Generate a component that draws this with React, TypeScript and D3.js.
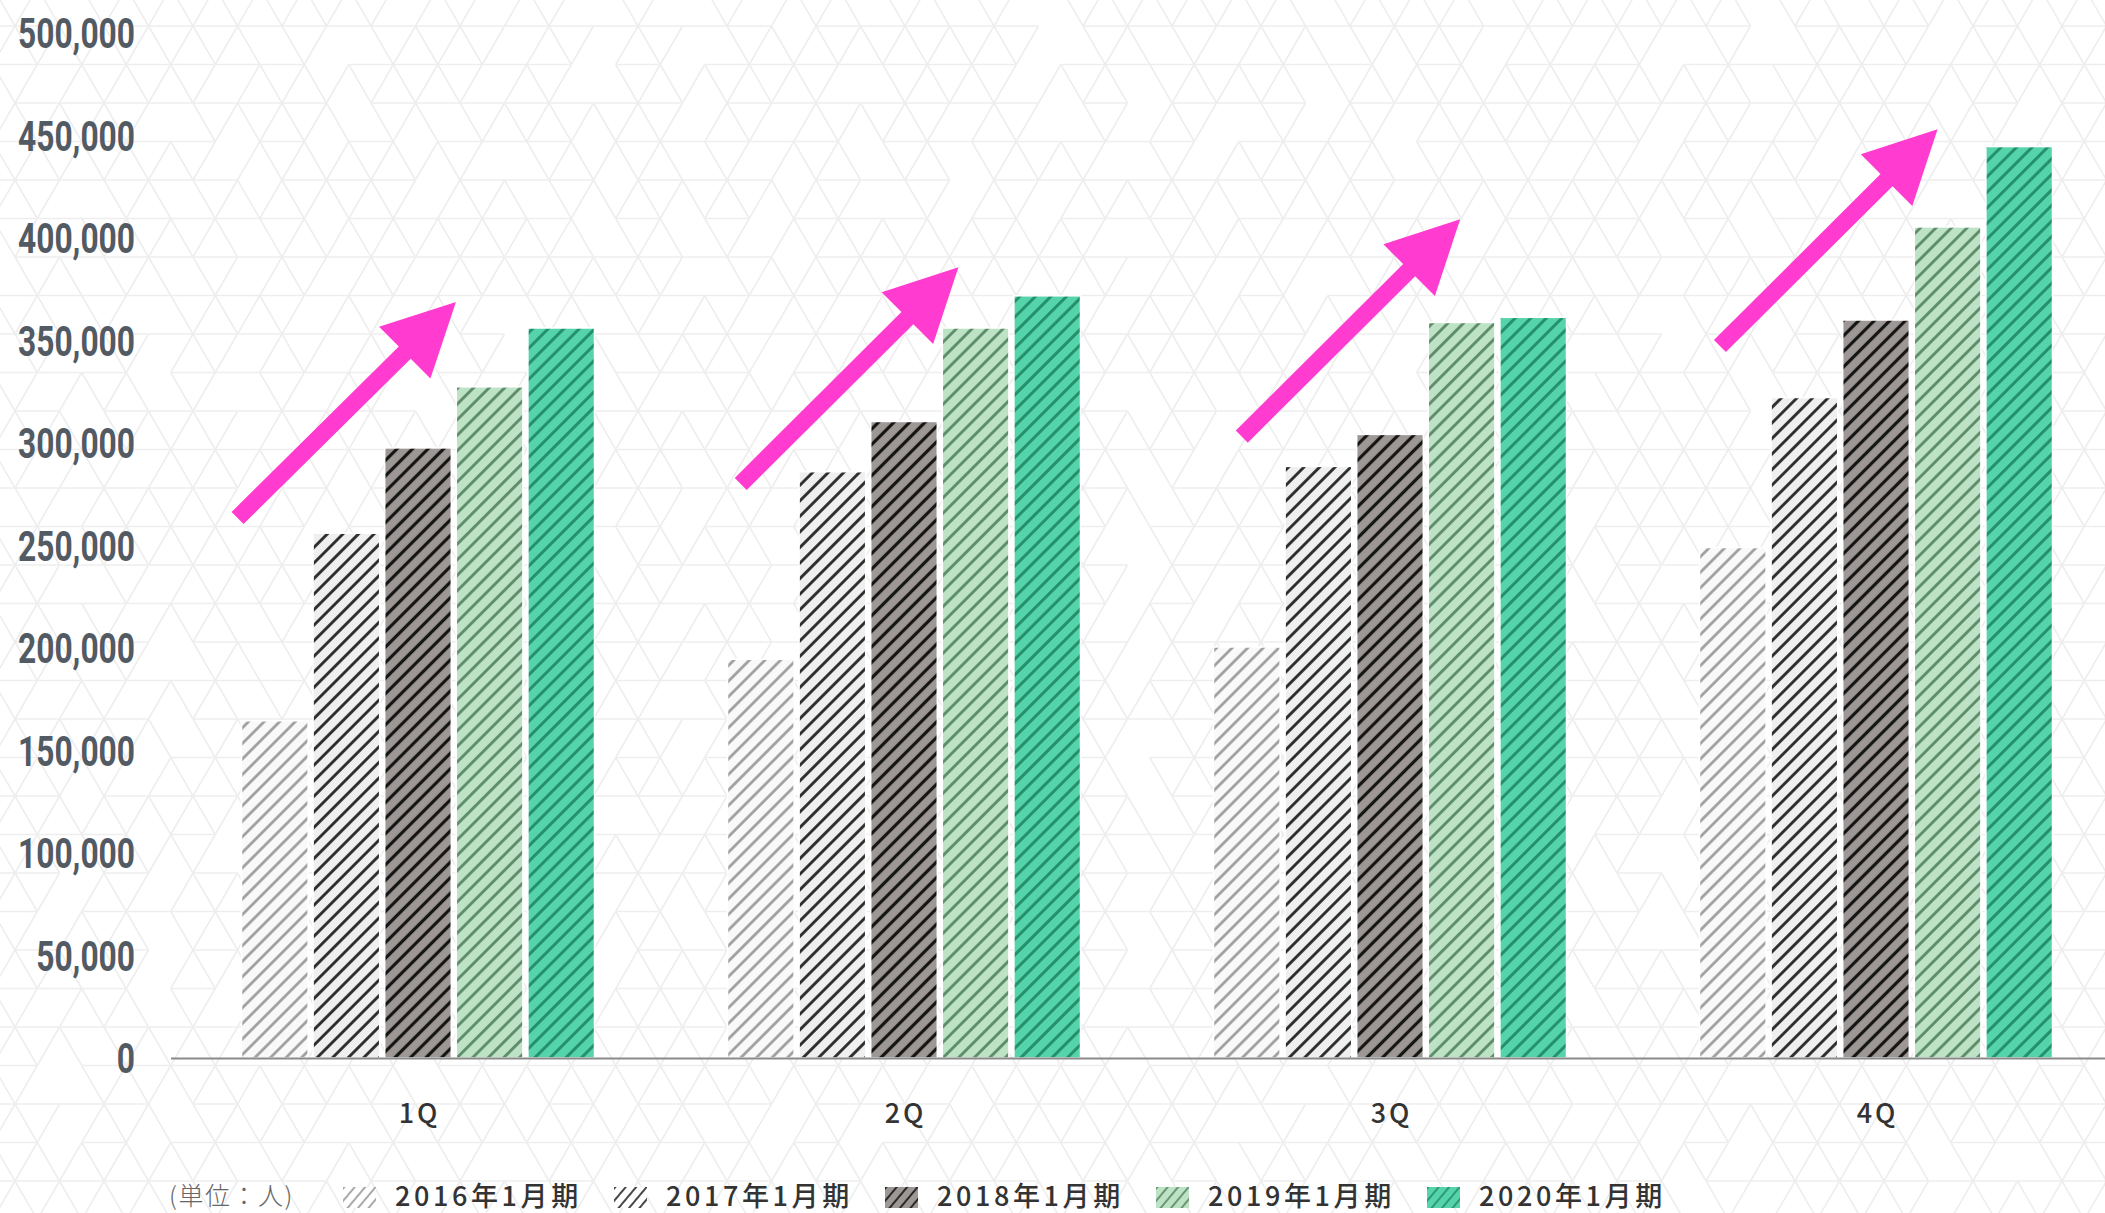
import React from 'react';
import * as d3 from 'd3';

const W = 2105;
const H = 1213;

// Quarters on the x axis and fiscal periods in the legend
const quarters = ['1Q', '2Q', '3Q', '4Q'];
const periods = ['2016年1月期', '2017年1月期', '2018年1月期', '2019年1月期', '2020年1月期'];

// Headcount per quarter (人)
const fy2016 = [164500, 194500, 200500, 249000];
const fy2017 = [256000, 286000, 288600, 322200];
const fy2018 = [297600, 310500, 304200, 360000];
const fy2019 = [327400, 356100, 358800, 405400];
const fy2020 = [356100, 371800, 361300, 444600];
const seriesValues = [fy2016, fy2017, fy2018, fy2019, fy2020];

const yTicks = d3.range(0, 500001, 50000);
const tickFormat = d3.format(',');

// Trend arrows: value at tail / tip, horizontal offsets in bar steps from the quarter centre
const arrowQuarter = ['1Q', '2Q', '3Q', '4Q'];
const arrowFrom = [263400, 280000, 303100, 347300];
const arrowTo = [368800, 385700, 409100, 453000];
const arrowFromStep = [-2.52, -2.28, -2.07, -2.18];
const arrowToStep = [0.53, 0.76, 0.98, 0.86];

// Fill / stripe styling per period
const fills = ['#f9f9f9', '#efefef', '#9d9795', '#bee2c6', '#55d3ab'];
const stripes = ['#9a9a9a', '#262626', '#151515', '#5b8a66', '#25906c'];
const stripeW = [2.6, 2.8, 3.2, 2.8, 3.0];

const y = d3.scaleLinear().domain([0, 500000]).range([1058, 33]);
const x0 = d3.scalePoint<string>().domain(quarters).range([418, 1876]);
const x1 = d3
  .scaleBand<string>()
  .domain(periods)
  .range([-179, 179])
  .paddingInner(0.07)
  .paddingOuter(0.035);

// Light triangular lattice that fills the page background
function latticeSegments() {
  const side = 44.5;
  const rowH = 38.5;
  const segs: [number, number, number, number][] = [];
  const rows = d3.range(-1, Math.ceil(H / rowH) + 2);
  const cols = d3.range(-2, Math.ceil(W / side) + 3);
  const vx = (k: number, m: number) => 15 + side * (m + (Math.abs(k) % 2 ? 0.5 : 0));
  const vy = (k: number) => 26 + rowH * k;
  const skip = (k: number, m: number, d: number) => {
    const h = (((k + 7) * 73856093) ^ ((m + 11) * 19349663) ^ ((d + 3) * 83492791)) >>> 0;
    return h % 6 === 0;
  };
  rows.forEach((k) => {
    cols.forEach((m) => {
      if (!skip(k, m, 0)) segs.push([vx(k, m), vy(k), vx(k, m + 1), vy(k)]);
      // diagonals to the row below
      const odd = Math.abs(k) % 2 === 1;
      const left = odd ? m : m - 1;
      const right = odd ? m + 1 : m;
      if (!skip(k, m, 1)) segs.push([vx(k, m), vy(k), vx(k + 1, left), vy(k + 1)]);
      if (!skip(k, m, 2)) segs.push([vx(k, m), vy(k), vx(k + 1, right), vy(k + 1)]);
    });
  });
  return segs;
}

function arrowPath(xa: number, ya: number, xb: number, yb: number) {
  const dx = xb - xa;
  const dy = yb - ya;
  const len = Math.hypot(dx, dy);
  const ux = dx / len;
  const uy = dy / len;
  const px = -uy;
  const py = ux;
  const shaft = 8.5;
  const headHalf = 36.5;
  const headLen = 72;
  const bx = xb - ux * headLen;
  const by = yb - uy * headLen;
  const pts: [number, number][] = [
    [xa + px * shaft, ya + py * shaft],
    [bx + px * shaft, by + py * shaft],
    [bx + px * headHalf, by + py * headHalf],
    [xb, yb],
    [bx - px * headHalf, by - py * headHalf],
    [bx - px * shaft, by - py * shaft],
    [xa - px * shaft, ya - py * shaft],
  ];
  return 'M' + pts.map((p) => p.join(',')).join('L') + 'Z';
}

export default function App() {
  const segs = latticeSegments();
  const step = x1.step();
  const legendX = (i: number) => 343 + i * 271;

  return (
    <svg
      width={W}
      height={H}
      style={{ position: 'absolute', left: 0, top: 0, background: '#ffffff' }}
    >
      <defs>
        {periods.map((p, i) => (
          <pattern
            key={p}
            id={`bar-stripe-${i}`}
            patternUnits="userSpaceOnUse"
            width={11}
            height={11}
            patternTransform="rotate(45)"
          >
            <rect width={11} height={11} fill={fills[i]} />
            <line x1={5.5} y1={-1} x2={5.5} y2={12} stroke={stripes[i]} strokeWidth={stripeW[i]} />
          </pattern>
        ))}
        {periods.map((p, i) => (
          <pattern
            key={p + '-lg'}
            id={`legend-stripe-${i}`}
            patternUnits="userSpaceOnUse"
            width={8}
            height={8}
            patternTransform="rotate(40)"
          >
            <rect width={8} height={8} fill={i < 2 ? '#ffffff' : fills[i]} />
            <line x1={4} y1={-1} x2={4} y2={9} stroke={stripes[i]} strokeWidth={1.7} />
          </pattern>
        ))}
      </defs>

      {/* background lattice */}
      <g stroke="#eeeeee" strokeWidth={1.6} fill="none">
        {segs.map((s, i) => (
          <line key={i} x1={s[0]} y1={s[1]} x2={s[2]} y2={s[3]} />
        ))}
      </g>

      {/* y tick labels */}
      <g fill="#525a63" fontFamily="Roboto, 'Liberation Sans', sans-serif" fontWeight={700} fontSize={42}>
        {yTicks.map((t) => (
          <text
            key={t}
            transform={`translate(135,${y(t) + 15}) scale(0.755,1)`}
            textAnchor="end"
          >
            {tickFormat(t)}
          </text>
        ))}
      </g>

      {/* bars */}
      {quarters.map((q, qi) => (
        <g key={q} transform={`translate(${x0(q)},0)`}>
          {periods.map((p, si) => {
            const v = seriesValues[si][qi];
            return (
              <rect
                key={p}
                x={x1(p)}
                y={y(v)}
                width={x1.bandwidth()}
                height={y(0) - y(v)}
                fill={`url(#bar-stripe-${si})`}
                stroke="#ffffff"
                strokeWidth={1.5}
              />
            );
          })}
        </g>
      ))}

      {/* baseline */}
      <line x1={171} x2={W} y1={y(0) + 0.5} y2={y(0) + 0.5} stroke="#8a8a8a" strokeWidth={2.2} />

      {/* x labels */}
      <g
        fill="#333333"
        fontFamily="'Noto Sans CJK JP', 'Noto Sans', sans-serif"
        fontWeight={500}
        fontSize={27}
        letterSpacing={3}
        textAnchor="middle"
      >
        {quarters.map((q) => (
          <text key={q} x={(x0(q) as number) + 1.5} y={1123}>
            {q}
          </text>
        ))}
      </g>

      {/* trend arrows */}
      {arrowQuarter.map((q, i) => {
        const cx = x0(q) as number;
        return (
          <path
            key={q}
            d={arrowPath(
              cx + arrowFromStep[i] * step,
              y(arrowFrom[i]),
              cx + arrowToStep[i] * step,
              y(arrowTo[i])
            )}
            fill="#ff3bd0"
          />
        );
      })}

      {/* legend */}
      <text
        x={169}
        y={1205}
        fill="#666666"
        fontFamily="'Noto Sans CJK JP', sans-serif"
        fontWeight={300}
        fontSize={25}
        letterSpacing={1.5}
      >
        (単位：人)
      </text>
      {periods.map((p, i) => (
        <g key={p} transform={`translate(${legendX(i)},0)`}>
          <rect x={0} y={1187} width={33} height={21} fill={`url(#legend-stripe-${i})`} />
          <text
            x={52}
            y={1206}
            fill="#333333"
            fontFamily="'Noto Sans CJK JP', sans-serif"
            fontWeight={500}
            fontSize={27}
            letterSpacing={3.6}
          >
            {p}
          </text>
        </g>
      ))}
    </svg>
  );
}
